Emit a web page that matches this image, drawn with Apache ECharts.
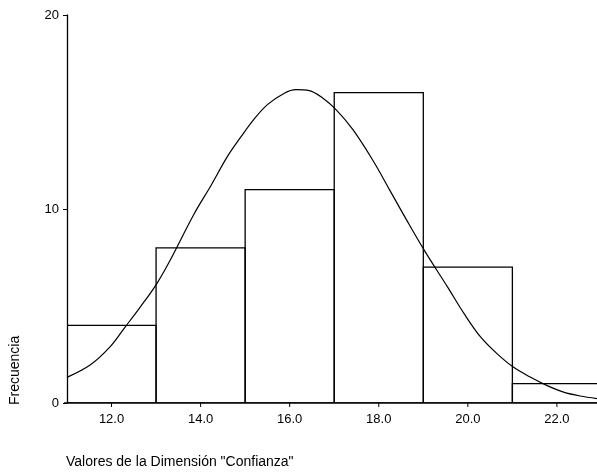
<!DOCTYPE html>
<html>
<head>
<meta charset="utf-8">
<script src="https://cdn.jsdelivr.net/npm/echarts@6/dist/echarts.min.js"></script>
<style>
  html, body { margin: 0; padding: 0; background: #fff; }
  #chart { width: 597px; height: 472px; }
</style>
</head>
<body>
<div id="chart"></div>
<script>
// histogram bins
var binStart = [11, 13, 15, 17, 19, 21];
var binEnd = [13, 15, 17, 19, 21, 23];
var counts = [4, 8, 11, 16, 7, 1];

// normal curve, points
var curveX = [11.0, 11.51, 11.96, 12.3, 12.64, 13.01, 13.31, 13.85, 14.23, 14.6, 14.9, 15.2, 15.5, 15.88, 16.14, 16.44, 16.74, 17.04, 17.42, 17.87, 18.24, 18.62, 19.03, 19.55, 19.92, 20.29, 20.66, 21.02, 21.4, 21.77, 22.15, 22.52, 22.9];
var curveY = [1.32, 1.94, 2.88, 3.9, 4.93, 6.13, 7.33, 9.73, 11.2, 12.7, 13.7, 14.63, 15.38, 15.97, 16.15, 16.1, 15.72, 15.12, 14.09, 12.5, 11.0, 9.45, 7.84, 5.96, 4.59, 3.39, 2.53, 1.85, 1.34, 0.91, 0.56, 0.36, 0.23];

var xTicks = [12, 14, 16, 18, 20, 22];

var font = 'Liberation Sans, Arial, sans-serif';

var barData = binStart.map(function (s, i) { return [s, binEnd[i], counts[i]]; });
var curveData = curveX.map(function (x, i) { return [x, curveY[i]]; });

var myChart = echarts.init(document.getElementById('chart'), null, { renderer: 'canvas' });

var option = {
  animation: false,
  backgroundColor: '#fff',
  grid: { left: 67, top: 15, width: 530, height: 388 },
  xAxis: {
    type: 'value',
    min: 11,
    max: 22.9,
    splitLine: { show: false },
    axisLine: { show: false },
    axisTick: { show: false },
    axisLabel: { show: false }
  },
  yAxis: {
    type: 'value',
    min: 0,
    max: 20,
    interval: 10,
    splitLine: { show: false },
    axisLine: { show: true, onZero: false, lineStyle: { color: '#000', width: 1.3 } },
    axisTick: { show: true, length: 4, lineStyle: { color: '#000' } },
    axisLabel: { color: '#000', fontFamily: font, fontSize: 13, margin: 8 }
  },
  series: [
    {
      type: 'custom',
      data: barData,
      clip: true,
      z: 2,
      renderItem: function (params, api) {
        var p0 = api.coord([api.value(0), api.value(2)]);
        var p1 = api.coord([api.value(1), 0]);
        return {
          type: 'rect',
          shape: { x: p0[0], y: p0[1], width: p1[0] - p0[0], height: p1[1] - p0[1] },
          style: { fill: 'none', stroke: '#000', lineWidth: 1.3 }
        };
      }
    },
    {
      // x axis line + ticks + labels
      type: 'custom',
      data: xTicks.map(function (t) { return [t]; }),
      z: 3,
      renderItem: function (params, api) {
        var p = api.coord([api.value(0), 0]);
        var children = [
          { type: 'line', shape: { x1: p[0], y1: p[1], x2: p[0], y2: p[1] + 4 }, style: { stroke: '#000', lineWidth: 1 } },
          { type: 'text', x: p[0], y: p[1] + 16, style: { text: api.value(0).toFixed(1), fill: '#000', font: '13px ' + font, align: 'center', verticalAlign: 'middle' } }
        ];
        if (params.dataIndex === 0) {
          var a = api.coord([11, 0]);
          children.push({ type: 'line', shape: { x1: a[0] - 3, y1: a[1], x2: 600, y2: a[1] }, style: { stroke: '#000', lineWidth: 1.5 } });
        }
        return { type: 'group', children: children };
      }
    },
    {
      type: 'line',
      data: curveData,
      smooth: 0.35,
      showSymbol: false,
      z: 4,
      lineStyle: { color: '#000', width: 1.2 }
    }
  ],
  graphic: [
    {
      type: 'text',
      left: 66,
      top: 455,
      style: { text: 'Valores de la Dimensión "Confianza"', fill: '#000', font: '14px ' + font }
    },
    {
      type: 'text',
      x: 22,
      y: 405,
      rotation: Math.PI / 2,
      style: { text: 'Frecuencia', fill: '#000', font: '14px ' + font, align: 'left', verticalAlign: 'bottom' }
    }
  ]
};

myChart.setOption(option);
</script>
</body>
</html>
